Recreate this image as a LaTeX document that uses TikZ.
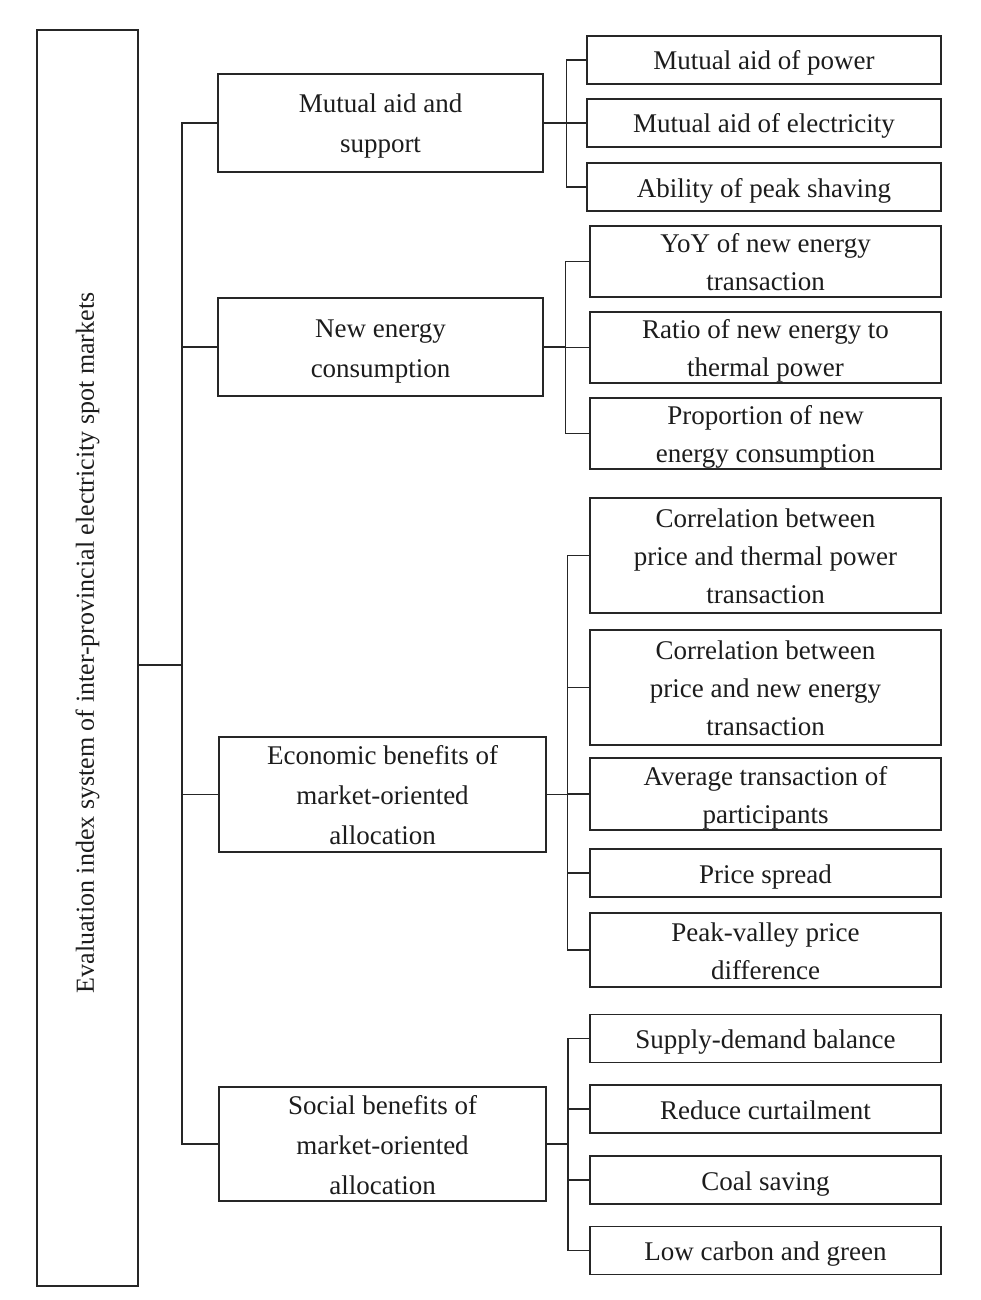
\documentclass[tikz,border=0pt]{standalone}
\usepackage{fontspec}
\setmainfont{Liberation Serif}
\definecolor{ln}{RGB}{38,38,38}
\definecolor{tx}{RGB}{28,28,28}
\newcommand\mytop{\rule{0pt}{26pt}}
\newcommand\mybot{\rule[-6pt]{0pt}{6pt}}
\begin{document}
\begin{tikzpicture}[x=1pt,y=-1pt,
  box/.style={draw=ln, line width=1.4pt, inner sep=0pt, align=center, text=tx, anchor=center},
  lone/.style={box, minimum width=325pt, font=\fontsize{27}{40}\selectfont},
  ltwo/.style={box, minimum width=351pt, font=\fontsize{27}{38}\selectfont},
  conn/.style={draw=ln, line width=1.4pt}]
\useasboundingbox (0,0) rectangle (980,1300);

% root
\node[draw=ln, line width=1.4pt, inner sep=0pt, minimum width=101pt, minimum height=1256pt] (root) at (87.5,658) {};
\node[rotate=90, text=tx, inner sep=0pt, font=\fontsize{26}{30}\selectfont] (title) at (87.5,643)
  {Evaluation index system of inter-provincial electricity spot markets};

% level 1
\node[lone, minimum height=98pt] (a) at (380.5,123) {\mytop Mutual aid and\\support\mybot};
\node[lone, minimum height=98pt] (b) at (380.5,347) {\mytop New energy\\consumption\mybot};
\node[lone, minimum width=327pt, minimum height=115pt] (c) at (382.5,794.5) {\mytop Economic benefits of\\market-oriented\\allocation\mybot};
\node[lone, minimum width=327pt, minimum height=114pt] (d) at (382.5,1144) {\mytop Social benefits of\\market-oriented\\allocation\mybot};

% level 2, group 1
\node[ltwo, minimum width=354pt, minimum height=48pt] (a1) at (764,60) {\mytop Mutual aid of power\mybot};
\node[ltwo, minimum width=354pt, minimum height=48pt] (a2) at (764,123) {\mytop Mutual aid of electricity\mybot};
\node[ltwo, minimum width=354pt, minimum height=48pt] (a3) at (764,187) {\mytop Ability of peak shaving\mybot};

% group 2
\node[ltwo, minimum height=71pt] (b1) at (765.5,261.5) {\mytop YoY of new energy\\transaction\mybot};
\node[ltwo, minimum height=71pt] (b2) at (765.5,347.5) {\mytop Ratio of new energy to\\thermal power\mybot};
\node[ltwo, minimum height=71pt] (b3) at (765.5,433.5) {\mytop Proportion of new\\energy consumption\mybot};

% group 3
\node[ltwo, minimum height=115pt] (c1) at (765.5,555.5) {\mytop Correlation between\\price and thermal power\\transaction\mybot};
\node[ltwo, minimum height=115pt] (c2) at (765.5,687.5) {\mytop Correlation between\\price and new energy\\transaction\mybot};
\node[ltwo, minimum height=72pt] (c3) at (765.5,794) {\mytop Average transaction of\\participants\mybot};
\node[ltwo, minimum height=48pt] (c4) at (765.5,873) {\mytop Price spread\mybot};
\node[ltwo, minimum height=74pt] (c5) at (765.5,950) {\mytop Peak-valley price\\difference\mybot};

% group 4
\node[ltwo, minimum height=48pt] (d1) at (765.5,1038.5) {\mytop Supply-demand balance\mybot};
\node[ltwo, minimum height=48pt] (d2) at (765.5,1109) {\mytop Reduce curtailment\mybot};
\node[ltwo, minimum height=48pt] (d3) at (765.5,1180) {\mytop Coal saving\mybot};
\node[ltwo, minimum height=48pt] (d4) at (765.5,1250.5) {\mytop Low carbon and green\mybot};

% branch x positions
\coordinate (ta) at (182,0);
\coordinate (ba) at (566.4,0);
\coordinate (bb) at (565.7,0);
\coordinate (bc) at (567.5,0);
\coordinate (bd) at (568,0);

% trunk
\draw[conn] (a.west) -- (a.west -| ta) -- (d.west -| ta) -- (d.west);
\draw[conn] (b.west) -- (b.west -| ta);
\draw[conn] (c.west) -- (c.west -| ta);
\draw[conn] ([yshift=-7pt]root.east) -- ([yshift=-7pt]root.east -| ta);

% group 1
\draw[conn] (a1.west) -- (a1.west -| ba) -- (a3.west -| ba) -- (a3.west);
\draw[conn] (a2.west) -- (a2.west -| ba);
\draw[conn] (a.east) -- (a.east -| ba);

% group 2
\draw[conn] (b1.west) -- (b1.west -| bb) -- (b3.west -| bb) -- (b3.west);
\draw[conn] (b2.west) -- (b2.west -| bb);
\draw[conn] (b.east) -- (b.east -| bb);

% group 3
\draw[conn] (c1.west) -- (c1.west -| bc) -- (c5.west -| bc) -- (c5.west);
\draw[conn] (c2.west) -- (c2.west -| bc);
\draw[conn] (c3.west) -- (c3.west -| bc);
\draw[conn] (c4.west) -- (c4.west -| bc);
\draw[conn] (c.east) -- (c.east -| bc);

% group 4
\draw[conn] (d1.west) -- (d1.west -| bd) -- (d4.west -| bd) -- (d4.west);
\draw[conn] (d2.west) -- (d2.west -| bd);
\draw[conn] (d3.west) -- (d3.west -| bd);
\draw[conn] (d.east) -- (d.east -| bd);
\end{tikzpicture}
\end{document}
